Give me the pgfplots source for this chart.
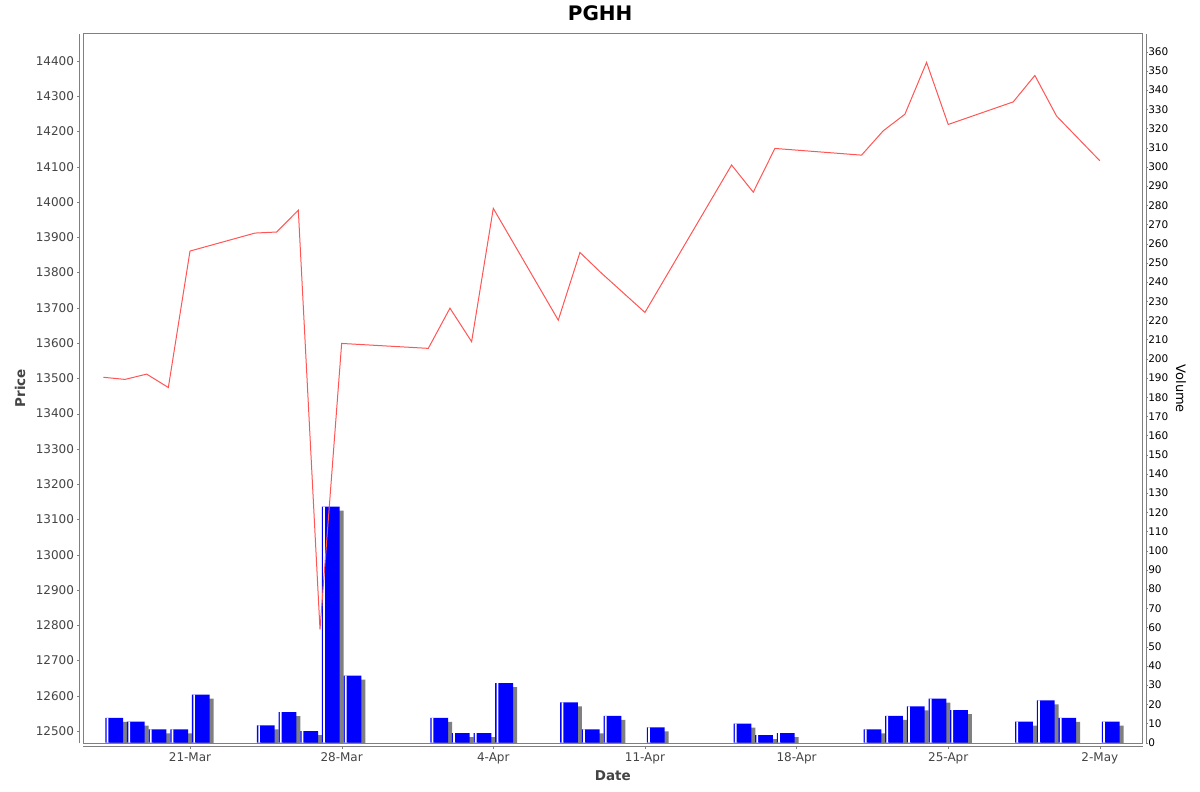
\documentclass[border=0pt]{standalone}
\usepackage{fontspec}
\setmainfont{DejaVu Sans}
\usepackage{pgfplots}
\usepackage{pgfplotstable}
\pgfplotsset{compat=1.18}
\definecolor{linered}{RGB}{255,85,85}
\definecolor{axgray}{RGB}{128,128,128}
\definecolor{lblgray}{RGB}{68,68,68}
\definecolor{shadowgray}{RGB}{128,128,128}

% d = days after 21-Mar, p = price, v = volume
\pgfplotstableread{
d p v
-4 13503 13
-3 13497 11
-2 13512 7
-1 13474 7
0 13861 25
3 13912 9
4 13915 16
5 13977 6
6 12788 123
7 13599 35
11 13585 13
12 13699 5
13 13604 5
14 13982 31
17 13665 21
18 13857 7
19 13798 14
21 13687 8
25 14105 10
26 14028 4
27 14152 5
31 14133 7
32 14202 14
33 14249 19
34 14396 23
35 14220 17
38 14284 11
39 14359 22
40 14244 13
42 14117 11
}\data

\begin{document}
\begin{tikzpicture}
\useasboundingbox (0,0) rectangle (1200bp,792bp);
\fill[white] (0,0) rectangle (1200bp,792bp);
% volume axis (right)
\begin{axis}[
  at={(83bp,48.5bp)}, anchor=south west, scale only axis,
  width=1059.7bp, height=709.5bp,
  xmin=-4.94, xmax=43.98, ymin=-0.4, ymax=369.2,
  axis x line=none, axis y line*=right,
  y axis line style={draw=none},
  ytick={0,10,...,360},
  tick align=outside, major tick length=2bp,
  ytick style={axgray, xshift=3.3bp},
  yticklabel style={font=\fontsize{10.5bp}{12bp}\selectfont, text=black},
  /pgf/number format/assume math mode=true,
  ylabel={Volume},
  every axis y label/.style={at={(rel axis cs:1.036,0.5)}, anchor=center, rotate=-90,
    font=\fontsize{13bp}{15bp}\selectfont, text=black},
]
\addplot[ybar, bar width=0.82, bar shift=0pt, fill=shadowgray, draw=none, xshift=4bp, yshift=-4bp]
  table[x expr=\thisrow{d}+0.5, y=v] {\data};
\addplot[ybar, bar width=0.82, bar shift=0pt, fill=blue, draw=none]
  table[x expr=\thisrow{d}+0.5, y=v] {\data};
\addplot[ybar, bar width=0.08, bar shift=0pt, fill=white, draw=none]
  table[x expr=\thisrow{d}+0.19, y=v] {\data};
\end{axis}
% price axis (left) and date axis
\begin{axis}[
  at={(83bp,48.5bp)}, anchor=south west, scale only axis,
  width=1059.7bp, height=709.5bp,
  xmin=-4.94, xmax=43.98, ymin=12464.4, ymax=14476.6,
  axis x line*=bottom, axis y line*=left,
  axis line style={draw=none},
  xtick={0,7,14,21,28,35,42},
  xticklabels={21-Mar,28-Mar,4-Apr,11-Apr,18-Apr,25-Apr,2-May},
  ytick={12500,12600,...,14400},
  scaled y ticks=false,
  tick align=outside, major tick length=2bp,
  ytick style={axgray, xshift=-3.5bp},
  xtick style={axgray, yshift=-3.5bp},
  yticklabel style={font=\fontsize{12bp}{14bp}\selectfont, text=lblgray, xshift=-3.5bp},
  xticklabel style={font=\fontsize{12bp}{14bp}\selectfont, text=lblgray, yshift=-4bp},
  /pgf/number format/assume math mode=true,
  /pgf/number format/1000 sep={},
  title={PGHH},
  every axis title/.style={at={(rel axis cs:0.488,1.0296)}, anchor=center,
    font=\fontsize{20bp}{24bp}\selectfont\bfseries, text=black},
  xlabel={Date},
  every axis x label/.style={at={(rel axis cs:0.5,-0.0458)}, anchor=center,
    font=\fontsize{13.5bp}{16bp}\selectfont\bfseries, text=lblgray},
  ylabel={Price},
  every axis y label/.style={at={(rel axis cs:-0.0594,0.501)}, anchor=center, rotate=90,
    font=\fontsize{13.5bp}{16bp}\selectfont\bfseries, text=lblgray},
]
\addplot[color=linered, line width=1bp] table[x=d, y=p] {\data};
\end{axis}
% plot box and offset axis lines
\draw[axgray, line width=1bp] (83bp,48.5bp) rectangle (1142.7bp,758bp);
\draw[axgray, line width=1bp] (79.5bp,48.5bp) -- (79.5bp,758bp);
\draw[axgray, line width=1bp] (83bp,45bp) -- (1142.7bp,45bp);
\draw[axgray, line width=1bp] (1146bp,48.5bp) -- (1146bp,758bp);
\end{tikzpicture}
\end{document}
